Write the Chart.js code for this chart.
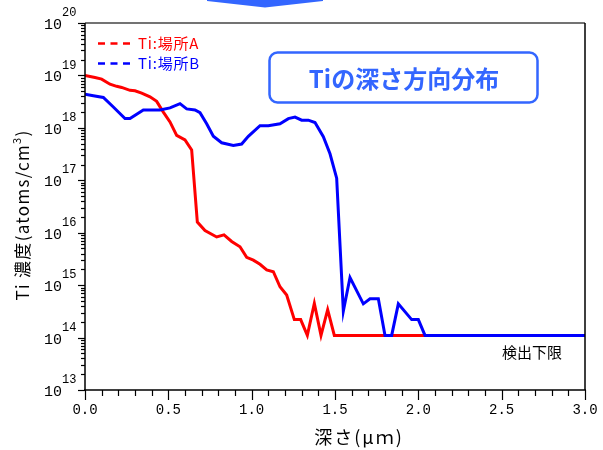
<!DOCTYPE html>
<html>
<head>
<meta charset="utf-8">
<script src="https://cdn.jsdelivr.net/npm/chart.js@4/dist/chart.umd.min.js"></script>
<style>
  html, body { margin: 0; padding: 0; background: #ffffff; }
  #wrap { width: 603px; height: 450px; position: relative; }
</style>
</head>
<body>
<div id="wrap"><canvas id="c" width="603" height="450"></canvas></div>
<script>
// ---- data ----
const depthA = [0.00, 0.06, 0.10, 0.15, 0.19, 0.22, 0.27, 0.30, 0.34, 0.39, 0.43, 0.47, 0.51, 0.55, 0.60, 0.64,
                0.674, 0.72, 0.79, 0.834, 0.88, 0.93, 0.97, 1.01, 1.05, 1.09, 1.13, 1.17, 1.21, 1.256, 1.294,
                1.334, 1.376, 1.416, 1.456, 1.496, 3.00];
const tiA = [1.0e19, 9.1e18, 8.5e18, 6.8e18, 6.2e18, 5.9e18, 5.2e18, 5.1e18, 4.6e18, 3.9e18, 3.2e18, 2.0e18, 1.3e18, 7.2e17, 5.9e17, 3.8e17,
             1.6e16, 1.1e16, 8.3e15, 9.1e15, 6.8e15, 5.4e15, 3.4e15, 3.0e15, 2.5e15, 1.95e15, 1.8e15, 9.3e14, 6.5e14, 2.2e14, 2.2e14,
             1.1e14, 4.5e14, 1.1e14, 3.4e14, 1.1e14, 1.1e14];

const depthB = [0.00, 0.05, 0.11, 0.17, 0.24, 0.27, 0.35, 0.45, 0.51, 0.57, 0.61, 0.66, 0.69, 0.73, 0.77, 0.82, 0.89, 0.94, 0.98,
                1.05, 1.10, 1.17, 1.22, 1.26, 1.30, 1.34, 1.38, 1.43, 1.47, 1.51, 1.55, 1.59, 1.67, 1.71, 1.76, 1.80, 1.84,
                1.88, 1.96, 2.00, 2.04, 3.00];
const tiB = [4.4e18, 4.1e18, 3.8e18, 2.5e18, 1.5e18, 1.5e18, 2.2e18, 2.2e18, 2.4e18, 2.9e18, 2.3e18, 2.2e18, 1.95e18, 1.2e18, 6.9e17, 5.2e17, 4.6e17, 4.9e17, 6.9e17,
             1.1e18, 1.1e18, 1.2e18, 1.5e18, 1.6e18, 1.4e18, 1.4e18, 1.26e18, 6.8e17, 3.2e17, 1.1e17, 3.2e14, 1.4e15, 4.4e14, 5.5e14, 5.5e14, 1.1e14, 1.1e14,
             4.4e14, 2.2e14, 2.2e14, 1.1e14, 1.1e14];

const seriesNames = ['Ti:場所A', 'Ti:場所B'];
const xTickValues = [0.0, 0.5, 1.0, 1.5, 2.0, 2.5, 3.0];
const yExponents = [13, 14, 15, 16, 17, 18, 19, 20];
const titleText = 'Tiの深さ方向分布';
const xTitle = '深さ(μｍ)';
const yTitle = ['Ti 濃度(atoms/cm', '3', ')'];
const limitText = '検出下限';

const RED = '#ff0000', BLUE = '#0000ff', ACCENT = '#3366ff';
const JP = '"Noto Sans CJK JP", "Noto Sans", sans-serif';
const MONO = '"Liberation Mono", "DejaVu Sans Mono", monospace';

const toPts = (xs, ys) => xs.map((v, i) => ({ x: v, y: ys[i] }));

function setSpacing(ctx, v) { if ('letterSpacing' in ctx) ctx.letterSpacing = v; }

const decor = {
  id: 'decor',
  beforeDraw(chart) {
    const { ctx } = chart;
    ctx.save();
    // top arrow fragment
    ctx.fillStyle = ACCENT;
    ctx.beginPath();
    ctx.moveTo(207, 0); ctx.lineTo(323, 0); ctx.lineTo(323, 1); ctx.lineTo(265, 7.5); ctx.lineTo(207, 1);
    ctx.closePath(); ctx.fill();
    ctx.restore();
  },
  afterDraw(chart) {
    const { ctx, chartArea: a, scales } = chart;
    const xs = scales.x, ys = scales.y;
    ctx.save();
    // frame
    ctx.lineWidth = 1.5;
    ctx.strokeStyle = '#444444';
    ctx.beginPath(); ctx.moveTo(a.left, a.top); ctx.lineTo(a.right, a.top); ctx.stroke();
    ctx.strokeStyle = '#000000';
    ctx.beginPath();
    ctx.moveTo(a.right, a.top); ctx.lineTo(a.right, a.bottom);
    ctx.moveTo(a.left, a.top); ctx.lineTo(a.left, a.bottom + 1);
    ctx.moveTo(a.left - 1, a.bottom); ctx.lineTo(a.right + 1, a.bottom);
    ctx.stroke();

    // x ticks
    ctx.lineWidth = 1.2;
    for (let i = 0; i <= 30; i++) {
      const px = Math.round(xs.getPixelForValue(i / 10)) + 0.5;
      const len = (i % 5 === 0) ? 10 : 6;
      ctx.beginPath(); ctx.moveTo(px, a.bottom); ctx.lineTo(px, a.bottom + len); ctx.stroke();
    }
    // y ticks
    for (let e = 13; e <= 20; e++) {
      for (let m = 1; m <= 9; m++) {
        if (e === 20 && m > 1) break;
        const py = Math.round(ys.getPixelForValue(m * Math.pow(10, e))) + 0.5;
        const len = (m === 1) ? 7 : 4;
        ctx.beginPath(); ctx.moveTo(a.left - len, py); ctx.lineTo(a.left, py); ctx.stroke();
      }
    }

    // x tick labels
    ctx.fillStyle = '#000000';
    ctx.font = '14px ' + MONO;
    ctx.textAlign = 'center'; ctx.textBaseline = 'middle';
    xTickValues.forEach(v => {
      ctx.fillText(v.toFixed(1), xs.getPixelForValue(v), a.bottom + 20);
    });
    // y tick labels (10 with exponent)
    yExponents.forEach(e => {
      const py = ys.getPixelForValue(Math.pow(10, e));
      ctx.font = '15px ' + MONO;
      ctx.textAlign = 'right'; ctx.textBaseline = 'middle';
      ctx.fillText('10', 62, py + 2);
      ctx.font = '12px ' + MONO;
      ctx.textAlign = 'left';
      ctx.fillText(String(e), 62, py - 10);
    });

    // x title
    ctx.font = '18px ' + JP;
    setSpacing(ctx, '2px');
    ctx.textAlign = 'center'; ctx.textBaseline = 'middle';
    ctx.fillText(xTitle, 359, 437);

    // y title (rotated)
    ctx.save();
    ctx.translate(23, 215);
    ctx.rotate(-Math.PI / 2);
    setSpacing(ctx, '1.3px');
    ctx.font = '17px ' + JP;
    const w0 = ctx.measureText(yTitle[0]).width;
    ctx.font = '11px ' + JP;
    const w1 = ctx.measureText(yTitle[1]).width;
    ctx.font = '17px ' + JP;
    const w2 = ctx.measureText(yTitle[2]).width;
    let sx = -(w0 + w1 + w2) / 2;
    ctx.textAlign = 'left'; ctx.textBaseline = 'middle';
    ctx.fillText(yTitle[0], sx, 0);
    ctx.font = '11px ' + JP;
    ctx.fillText(yTitle[1], sx + w0, -6);
    ctx.font = '17px ' + JP;
    ctx.fillText(yTitle[2], sx + w0 + w1, 0);
    ctx.restore();
    setSpacing(ctx, '0px');

    // legend
    const leg = [[RED, 43.5], [BLUE, 63.5]];
    leg.forEach((l, i) => {
      ctx.strokeStyle = l[0]; ctx.lineWidth = 2.5;
      ctx.setLineDash([7, 5.5]);
      ctx.beginPath(); ctx.moveTo(98, l[1]); ctx.lineTo(131, l[1]); ctx.stroke();
      ctx.setLineDash([]);
      ctx.fillStyle = l[0];
      ctx.font = '15px ' + JP;
      setSpacing(ctx, '0.8px');
      ctx.textAlign = 'left'; ctx.textBaseline = 'middle';
      ctx.fillText(seriesNames[i], 138, l[1]);
      setSpacing(ctx, '0px');
    });

    // title box
    ctx.strokeStyle = ACCENT; ctx.lineWidth = 2.5;
    ctx.beginPath();
    ctx.roundRect(269.5, 52.5, 268, 50, 8);
    ctx.stroke();
    ctx.fillStyle = ACCENT;
    ctx.font = 'bold 24px ' + JP;
    ctx.textAlign = 'center'; ctx.textBaseline = 'middle';
    ctx.fillText(titleText, 404, 79);

    // detection limit
    ctx.fillStyle = '#000000';
    ctx.font = '15px ' + JP;
    ctx.textAlign = 'left';
    ctx.fillText(limitText, 502, 352);
    ctx.restore();
  }
};

new Chart(document.getElementById('c'), {
  type: 'line',
  data: {
    datasets: [
      { label: seriesNames[0], data: toPts(depthA, tiA), borderColor: RED, borderWidth: 3, pointRadius: 0, tension: 0, order: 2, fill: false },
      { label: seriesNames[1], data: toPts(depthB, tiB), borderColor: BLUE, borderWidth: 3, pointRadius: 0, tension: 0, order: 1, fill: false }
    ]
  },
  options: {
    responsive: false,
    animation: false,
    devicePixelRatio: 1,
    layout: { padding: { left: 85, right: 18, top: 23, bottom: 60 } },
    plugins: { legend: { display: false }, tooltip: { enabled: false } },
    scales: {
      x: { type: 'linear', min: 0, max: 3, display: false },
      y: { type: 'logarithmic', min: 1e13, max: 1e20, display: false }
    }
  },
  plugins: [decor]
});
</script>
</body>
</html>
